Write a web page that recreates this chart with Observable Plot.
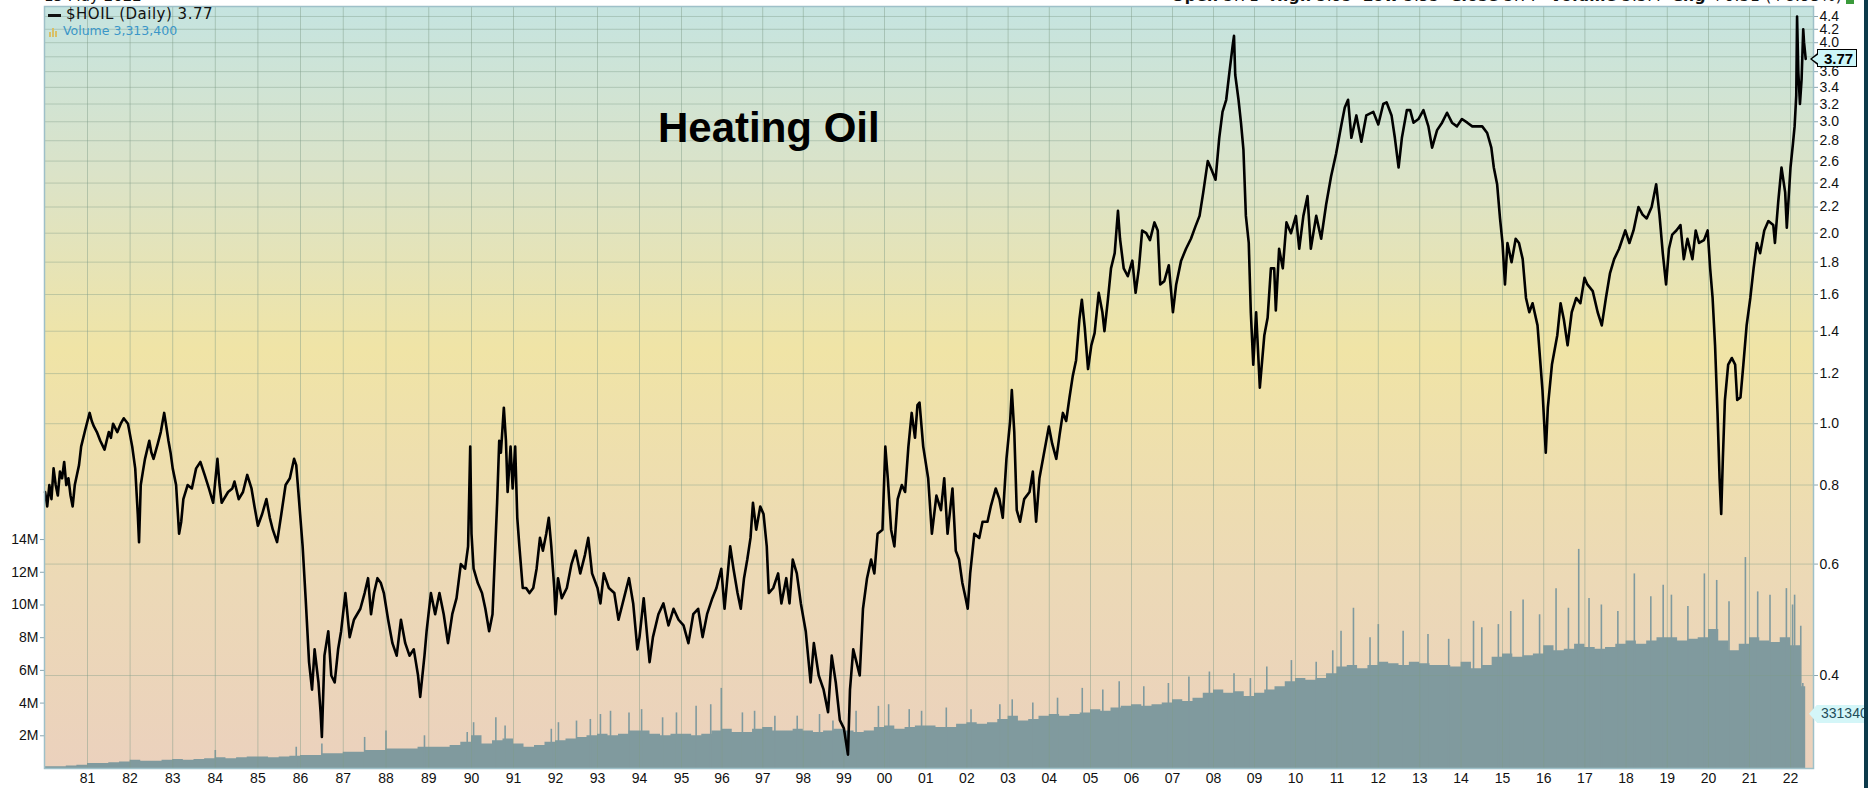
<!DOCTYPE html>
<html><head><meta charset="utf-8">
<script src="https://cdn.jsdelivr.net/npm/d3@7"></script>
<script src="https://cdn.jsdelivr.net/npm/@observablehq/plot@0.6"></script>
<style>
html,body{margin:0;padding:0;background:#fff;overflow:hidden}
#wrap{position:relative;width:1868px;height:788px;overflow:hidden;font-family:"Liberation Sans",Arial,sans-serif}
#wrap svg{position:absolute;left:0;top:0}
.ov{position:absolute;white-space:nowrap}
.vb{display:inline-block;width:2px;background:#d8c066;margin-right:1px;vertical-align:baseline}
</style></head><body><div id="wrap"></div>
<script>
// ---------- data ----------
const yearTicks = [1981,1982,1983,1984,1985,1986,1987,1988,1989,1990,1991,1992,1993,1994,1995,1996,1997,1998,1999,2000,2001,2002,2003,2004,2005,2006,2007,2008,2009,2010,2011,2012,2013,2014,2015,2016,2017,2018,2019,2020,2021,2022];
const priceTicks = [0.4,0.6,0.8,1.0,1.2,1.4,1.6,1.8,2.0,2.2,2.4,2.6,2.8,3.0,3.2,3.4,3.6,3.8,4.0,4.2,4.4];
const volTicks = [2e6,4e6,6e6,8e6,10e6,12e6,14e6];
const lastClose = 3.77;
const lastVolume = 3313400;

// $HOIL daily close (decimal year, $/gal)
const hoil = [
[1980.00,0.78],[1980.05,0.74],[1980.10,0.80],[1980.15,0.76],[1980.20,0.85],[1980.25,0.80],[1980.30,0.77],[1980.35,0.84],[1980.40,0.82],[1980.45,0.87],[1980.50,0.80],[1980.55,0.82],[1980.60,0.77],[1980.65,0.74],[1980.70,0.80],[1980.75,0.83],[1980.80,0.86],[1980.85,0.92],[1980.95,0.98],
[1981.05,1.04],[1981.10,1.01],[1981.15,0.99],[1981.22,0.97],[1981.30,0.94],[1981.40,0.91],[1981.45,0.94],[1981.50,0.97],[1981.55,0.95],[1981.60,1.00],[1981.70,0.97],[1981.78,1.00],[1981.85,1.02],[1981.95,1.00],
[1982.05,0.92],[1982.12,0.85],[1982.18,0.72],[1982.21,0.65],[1982.25,0.80],[1982.30,0.84],[1982.35,0.88],[1982.45,0.94],[1982.50,0.90],[1982.55,0.88],[1982.65,0.93],[1982.72,0.97],[1982.80,1.04],[1982.85,0.99],[1982.90,0.94],[1982.95,0.90],
[1983.00,0.85],[1983.08,0.80],[1983.15,0.67],[1983.20,0.70],[1983.25,0.76],[1983.35,0.80],[1983.45,0.79],[1983.55,0.85],[1983.65,0.87],[1983.75,0.83],[1983.85,0.79],[1983.95,0.75],
[1984.05,0.88],[1984.10,0.80],[1984.15,0.75],[1984.30,0.78],[1984.40,0.79],[1984.45,0.81],[1984.55,0.76],[1984.65,0.78],[1984.75,0.83],[1984.85,0.79],[1984.92,0.74],
[1985.00,0.69],[1985.10,0.72],[1985.20,0.76],[1985.28,0.71],[1985.35,0.68],[1985.45,0.65],[1985.55,0.72],[1985.65,0.80],[1985.75,0.82],[1985.85,0.88],[1985.90,0.86],[1985.95,0.78],
[1986.05,0.64],[1986.12,0.53],[1986.20,0.42],[1986.27,0.38],[1986.33,0.44],[1986.42,0.39],[1986.47,0.35],[1986.50,0.32],[1986.56,0.43],[1986.65,0.47],[1986.72,0.40],[1986.80,0.39],[1986.88,0.44],[1986.95,0.47],
[1987.05,0.54],[1987.15,0.46],[1987.25,0.49],[1987.40,0.51],[1987.50,0.54],[1987.58,0.57],[1987.65,0.50],[1987.72,0.54],[1987.80,0.57],[1987.88,0.56],[1987.95,0.54],
[1988.05,0.49],[1988.15,0.45],[1988.25,0.43],[1988.35,0.49],[1988.45,0.45],[1988.55,0.43],[1988.65,0.44],[1988.75,0.40],[1988.80,0.37],[1988.90,0.43],[1988.95,0.47],
[1989.05,0.54],[1989.15,0.50],[1989.25,0.54],[1989.35,0.50],[1989.45,0.45],[1989.55,0.50],[1989.65,0.53],[1989.75,0.60],[1989.85,0.59],[1989.92,0.64],[1989.97,0.92],
[1990.00,0.67],[1990.05,0.59],[1990.15,0.56],[1990.25,0.54],[1990.33,0.51],[1990.42,0.47],[1990.50,0.50],[1990.54,0.58],[1990.61,0.75],[1990.66,0.94],[1990.70,0.90],[1990.77,1.06],[1990.82,0.94],[1990.86,0.78],[1990.93,0.92],[1990.98,0.79],
[1991.04,0.92],[1991.09,0.71],[1991.14,0.64],[1991.22,0.55],[1991.30,0.55],[1991.38,0.54],[1991.47,0.55],[1991.55,0.59],[1991.63,0.66],[1991.70,0.63],[1991.78,0.67],[1991.84,0.71],[1991.90,0.64],[1991.97,0.55],
[1992.00,0.50],[1992.06,0.57],[1992.15,0.53],[1992.27,0.55],[1992.38,0.60],[1992.48,0.63],[1992.59,0.58],[1992.70,0.62],[1992.78,0.66],[1992.87,0.58],
[1993.00,0.55],[1993.07,0.52],[1993.15,0.58],[1993.27,0.55],[1993.40,0.54],[1993.50,0.49],[1993.63,0.53],[1993.75,0.57],[1993.85,0.52],[1993.95,0.44],
[1994.00,0.46],[1994.10,0.53],[1994.24,0.42],[1994.32,0.46],[1994.45,0.50],[1994.57,0.52],[1994.69,0.48],[1994.81,0.51],[1994.93,0.49],
[1995.05,0.48],[1995.17,0.45],[1995.29,0.50],[1995.41,0.51],[1995.52,0.46],[1995.63,0.50],[1995.76,0.53],[1995.86,0.55],[1995.98,0.59],
[1996.06,0.51],[1996.14,0.58],[1996.20,0.64],[1996.28,0.59],[1996.38,0.54],[1996.46,0.51],[1996.54,0.57],[1996.62,0.61],[1996.70,0.66],[1996.76,0.75],[1996.84,0.68],[1996.94,0.74],
[1997.02,0.72],[1997.10,0.64],[1997.15,0.54],[1997.26,0.55],[1997.38,0.58],[1997.46,0.52],[1997.58,0.57],[1997.66,0.52],[1997.74,0.61],[1997.84,0.58],[1997.94,0.52],
[1998.06,0.47],[1998.18,0.39],[1998.26,0.45],[1998.38,0.40],[1998.50,0.38],[1998.61,0.35],[1998.70,0.43],[1998.80,0.39],[1998.90,0.34],
[1999.00,0.33],[1999.10,0.30],[1999.15,0.38],[1999.23,0.44],[1999.31,0.42],[1999.39,0.40],[1999.47,0.51],[1999.57,0.57],[1999.67,0.61],[1999.75,0.58],[1999.83,0.67],[1999.95,0.68],
[2000.02,0.92],[2000.08,0.82],[2000.16,0.68],[2000.24,0.64],[2000.32,0.76],[2000.42,0.80],[2000.50,0.78],[2000.58,0.92],[2000.66,1.04],[2000.74,0.95],[2000.80,1.07],[2000.85,1.08],[2000.94,0.92],
[2001.06,0.82],[2001.15,0.67],[2001.26,0.77],[2001.37,0.73],[2001.45,0.82],[2001.53,0.67],[2001.65,0.79],[2001.73,0.63],[2001.81,0.61],[2001.89,0.56],[2001.97,0.53],
[2002.02,0.51],[2002.08,0.58],[2002.18,0.67],[2002.30,0.66],[2002.38,0.70],[2002.50,0.70],[2002.58,0.74],[2002.70,0.79],[2002.79,0.76],[2002.87,0.71],[2002.96,0.88],
[2003.05,1.01],[2003.09,1.13],[2003.15,0.97],[2003.21,0.73],[2003.29,0.70],[2003.39,0.76],[2003.52,0.78],[2003.60,0.84],[2003.68,0.70],[2003.76,0.82],[2003.86,0.89],[2003.99,0.99],
[2004.07,0.93],[2004.17,0.88],[2004.25,0.96],[2004.33,1.04],[2004.41,1.01],[2004.49,1.10],[2004.57,1.19],[2004.65,1.26],[2004.73,1.46],[2004.79,1.57],[2004.86,1.42],[2004.94,1.22],
[2005.02,1.33],[2005.10,1.39],[2005.20,1.61],[2005.29,1.50],[2005.34,1.40],[2005.42,1.56],[2005.50,1.76],[2005.59,1.86],[2005.67,2.17],[2005.72,1.96],[2005.81,1.76],[2005.91,1.71],
[2006.02,1.81],[2006.10,1.61],[2006.18,1.76],[2006.26,2.02],[2006.36,2.00],[2006.45,1.95],[2006.56,2.08],[2006.64,2.02],[2006.70,1.66],[2006.80,1.68],[2006.91,1.78],
[2007.01,1.50],[2007.09,1.66],[2007.21,1.81],[2007.33,1.89],[2007.45,1.96],[2007.56,2.05],[2007.66,2.13],[2007.75,2.32],[2007.86,2.60],[2007.94,2.53],
[2008.05,2.43],[2008.14,2.83],[2008.22,3.11],[2008.31,3.25],[2008.39,3.60],[2008.47,3.97],[2008.50,4.10],[2008.53,3.56],[2008.61,3.25],[2008.67,2.99],[2008.73,2.71],[2008.79,2.13],[2008.86,1.93],[2008.91,1.50],[2008.97,1.24],
[2009.04,1.50],[2009.13,1.14],[2009.24,1.38],[2009.32,1.47],[2009.40,1.76],[2009.48,1.76],[2009.52,1.51],[2009.60,1.89],[2009.69,1.76],[2009.78,2.08],[2009.89,2.00],
[2010.01,2.13],[2010.09,1.89],[2010.19,2.13],[2010.29,2.29],[2010.37,1.89],[2010.50,2.13],[2010.62,1.96],[2010.74,2.22],[2010.86,2.46],[2010.98,2.67],
[2011.11,2.97],[2011.19,3.16],[2011.27,3.25],[2011.35,2.83],[2011.47,3.07],[2011.59,2.79],[2011.71,3.07],[2011.88,3.11],
[2012.00,2.97],[2012.12,3.20],[2012.20,3.22],[2012.32,3.07],[2012.40,2.83],[2012.49,2.54],[2012.57,2.83],[2012.69,3.13],[2012.77,3.13],[2012.85,2.99],[2012.97,3.03],
[2013.09,3.13],[2013.21,2.95],[2013.30,2.73],[2013.42,2.91],[2013.54,2.99],[2013.66,3.10],[2013.78,2.99],[2013.90,2.95],
[2014.02,3.03],[2014.15,2.99],[2014.27,2.95],[2014.39,2.95],[2014.51,2.95],[2014.63,2.88],[2014.73,2.73],[2014.79,2.54],[2014.87,2.39],[2014.94,2.11],
[2015.00,1.93],[2015.06,1.66],[2015.12,1.93],[2015.22,1.80],[2015.32,1.96],[2015.40,1.93],[2015.49,1.82],[2015.57,1.58],[2015.65,1.50],[2015.73,1.55],[2015.85,1.43],[2015.97,1.13],
[2016.05,0.90],[2016.10,1.06],[2016.20,1.24],[2016.33,1.38],[2016.41,1.55],[2016.49,1.46],[2016.58,1.33],[2016.68,1.50],[2016.79,1.58],[2016.89,1.55],[2016.99,1.70],
[2017.06,1.66],[2017.19,1.62],[2017.31,1.50],[2017.41,1.43],[2017.51,1.58],[2017.61,1.73],[2017.71,1.82],[2017.83,1.89],[2017.98,2.02],
[2018.08,1.93],[2018.18,2.02],[2018.30,2.20],[2018.40,2.14],[2018.50,2.11],[2018.62,2.20],[2018.73,2.39],[2018.81,2.14],[2018.89,1.86],[2018.97,1.66],
[2019.04,1.89],[2019.12,1.99],[2019.22,2.02],[2019.32,2.06],[2019.40,1.82],[2019.49,1.96],[2019.61,1.82],[2019.69,2.02],[2019.77,1.93],[2019.89,1.95],[2019.98,2.02],
[2020.04,1.76],[2020.10,1.58],[2020.16,1.33],[2020.22,1.04],[2020.27,0.82],[2020.31,0.72],[2020.35,0.88],[2020.40,1.09],[2020.48,1.24],[2020.57,1.27],[2020.65,1.24],[2020.70,1.09],[2020.78,1.10],[2020.85,1.24],[2020.93,1.43],
[2021.02,1.58],[2021.10,1.76],[2021.18,1.93],[2021.26,1.86],[2021.36,2.02],[2021.46,2.09],[2021.58,2.06],[2021.62,1.93],[2021.70,2.24],[2021.78,2.54],[2021.87,2.32],[2021.91,2.04],
[2022.00,2.54],[2022.06,2.77],[2022.10,2.95],[2022.14,3.30],[2022.16,4.40],[2022.19,3.60],[2022.23,3.20],[2022.27,3.50],[2022.31,4.20],[2022.33,4.00],[2022.37,3.77]
];

// Volume, millions of contracts: typical level by quarter (year, Q1, Q2, Q3, Q4)
const volume = [
[1980,0.1,0.1,0.15,0.2],[1981,0.3,0.3,0.35,0.4],[1982,0.5,0.45,0.45,0.5],[1983,0.55,0.5,0.55,0.6],
[1984,0.65,0.6,0.65,0.7],[1985,0.7,0.65,0.7,0.75],[1986,0.8,0.8,0.9,0.9],[1987,1.0,1.0,1.1,1.1],
[1988,1.2,1.2,1.2,1.3],[1989,1.3,1.3,1.4,1.6],[1990,2.0,1.5,1.7,1.8],[1991,1.5,1.3,1.4,1.6],
[1992,1.7,1.8,1.9,2.0],[1993,2.1,2.0,2.1,2.3],[1994,2.3,2.1,2.0,2.1],[1995,2.1,2.0,2.1,2.3],
[1996,2.4,2.2,2.2,2.4],[1997,2.5,2.3,2.3,2.4],[1998,2.3,2.2,2.3,2.4],[1999,2.3,2.2,2.3,2.5],
[2000,2.6,2.4,2.5,2.6],[2001,2.6,2.5,2.5,2.7],[2002,2.8,2.7,2.8,3.0],[2003,3.2,2.9,3.0,3.2],
[2004,3.3,3.2,3.3,3.4],[2005,3.6,3.5,3.7,3.8],[2006,3.9,3.8,3.9,4.0],[2007,4.2,4.1,4.3,4.6],
[2008,4.8,4.6,4.7,4.4],[2009,4.6,4.8,5.0,5.3],[2010,5.5,5.4,5.5,5.8],[2011,6.2,6.3,6.1,6.3],
[2012,6.5,6.4,6.3,6.5],[2013,6.4,6.3,6.3,6.2],[2014,6.5,6.1,6.3,6.8],[2015,7.0,6.8,6.9,7.0],
[2016,7.5,7.2,7.3,7.6],[2017,7.4,7.3,7.4,7.6],[2018,7.8,7.6,7.8,8.0],[2019,8.0,7.8,7.9,8.0],
[2020,8.5,7.8,7.2,7.6],[2021,8.0,7.8,7.7,8.0],[2022,7.5,5.0]
];
// Single-day volume spikes (decimal year, millions)
const volSpikes = [
[1984.0,1.1],[1985.9,1.3],[1986.5,1.5],[1987.5,1.9],[1988.0,2.3],[1988.9,2.0],[1989.9,2.2],[1990.05,2.8],[1990.58,3.1],[1990.8,2.6],
[1991.9,2.4],[1992.07,2.8],[1992.5,2.9],[1992.83,3.0],[1993.07,3.3],[1993.31,3.5],[1993.75,3.4],[1994.05,3.6],[1994.55,3.1],[1994.88,3.4],
[1995.36,3.8],[1995.72,3.9],[1995.98,4.9],[1996.5,3.4],[1996.8,3.5],[1997.3,3.2],[1997.85,3.2],[1998.4,3.3],[1998.73,2.9],[1999.3,3.5],
[1999.85,3.8],[2000.1,3.9],[2000.6,3.6],[2000.9,3.5],[2001.5,3.7],[2002.1,3.6],[2002.8,3.9],[2003.1,4.2],[2003.6,4.0],[2004.2,4.3],
[2004.8,4.9],[2005.3,4.8],[2005.7,5.3],[2006.3,5.0],[2006.9,5.2],[2007.4,5.6],[2007.9,5.9],[2008.5,5.8],[2008.9,5.5],[2009.3,6.2],
[2009.9,6.6],[2010.5,6.5],[2010.9,7.2],[2011.1,8.4],[2011.4,9.8],[2011.8,8.0],[2012.0,8.8],[2012.6,8.4],[2013.2,8.2],[2013.7,7.9],
[2014.3,9.0],[2014.5,8.6],[2014.9,8.8],[2015.2,9.6],[2015.5,10.3],[2015.9,9.4],[2016.3,11.0],[2016.6,9.8],[2016.85,13.4],[2017.1,10.4],
[2017.4,10.0],[2017.8,9.6],[2018.2,11.9],[2018.6,10.5],[2018.9,11.2],[2019.1,10.6],[2019.5,9.9],[2019.9,11.9],[2020.2,11.5],[2020.5,10.2],
[2020.9,12.9],[2021.2,10.8],[2021.5,10.6],[2021.9,11.0],[2022.05,10.0],[2022.1,10.6],[2022.25,8.7],[2022.3,5.2]
];

// ---------- layout / scales ----------
const W = 1868, H = 788;
const M = {top: 6, right: 55, bottom: 20, left: 44};
const xDomain = [1980, 1981, 1986, 1990, 1995, 2000, 2005, 2010, 2015, 2020, 2022, 2022.56];
const xRange  = [44.6, 87, 300, 471, 681, 884, 1090, 1295, 1502, 1708, 1790, 1813];
const gridColor = "#7e9c88";
const volColor = "#809a9e";
const fontFam = "'Liberation Sans', Arial, sans-serif";

const priceRows = hoil.map(([t, p]) => ({t, p}));
const volRows = volume.flatMap(([yr, ...q]) => q.map((v, i) => ({t: yr + i / 4, v: v * 1e6})));
volRows.push({t: priceRows[priceRows.length - 1].t, v: volRows[volRows.length - 1].v});
const spikeRows = volSpikes.map(([t, v]) => ({t, v: v * 1e6}));

const base = {
  width: W, height: H, marginTop: M.top, marginRight: M.right, marginBottom: M.bottom, marginLeft: M.left,
  style: {background: "transparent", fontFamily: fontFam, fontSize: "14px", color: "#111", overflow: "visible"}
};

const volPlot = Plot.plot({
  ...base,
  x: {type: "linear", domain: xDomain, range: xRange, axis: null},
  y: {domain: [0, 46.6e6]},
  marks: [
    Plot.frame({fill: "url(#bgGrad)", stroke: "none"}),
    Plot.areaY(volRows, {x: "t", y: "v", curve: "step-after", fill: volColor}),
    Plot.ruleX(spikeRows, {x: "t", y1: 0, y2: "v", stroke: volColor, strokeWidth: 1.6}),
    Plot.axisY(volTicks, {anchor: "left", tickSize: 4, tickPadding: 2, stroke: "#8aa6b0", tickFormat: d => (d / 1e6) + "M", fontSize: 14, label: null})
  ]
});
volPlot.insertAdjacentHTML("afterbegin",
  `<defs><linearGradient id="bgGrad" x1="0" y1="0" x2="0" y2="1">
     <stop offset="0" stop-color="#c5e4e0"/>
     <stop offset="0.22" stop-color="#dbe3c8"/>
     <stop offset="0.45" stop-color="#f0e4a6"/>
     <stop offset="0.75" stop-color="#ecd9b6"/>
     <stop offset="1" stop-color="#ebd1bd"/>
   </linearGradient></defs>`);

const pricePlot = Plot.plot({
  ...base,
  x: {type: "linear", domain: xDomain, range: xRange},
  y: {type: "log", domain: [0.2852, 4.563]},
  marks: [
    Plot.gridX(yearTicks, {stroke: gridColor, strokeOpacity: 0.45, strokeWidth: 1}),
    Plot.gridY(priceTicks, {stroke: gridColor, strokeOpacity: 0.4, strokeWidth: 1}),
    Plot.lineY(priceRows, {x: "t", y: "p", stroke: "#000", strokeWidth: 2.6, strokeLinejoin: "round"}),
    Plot.axisY(priceTicks, {anchor: "right", tickSize: 4, tickPadding: 2, stroke: "#8aa6b0", tickFormat: d3.format(".1f"), fontSize: 14, label: null}),
    Plot.axisX(yearTicks, {anchor: "bottom", tickSize: 0, tickPadding: 5, tickFormat: d => String(d).slice(2), fontSize: 14, label: null}),
    Plot.frame({stroke: "#9ec0c8", strokeWidth: 1.5})
  ]
});

const wrap = document.getElementById("wrap");
wrap.appendChild(volPlot);
wrap.appendChild(pricePlot);

// ---------- overlays ----------
const yP = pricePlot.scale("y"), yV = volPlot.scale("y");
function ov(html, css) { const d = document.createElement("div"); d.className = "ov"; d.innerHTML = html; Object.assign(d.style, css); wrap.appendChild(d); return d; }

ov("15 May 2022", {left: "44px", top: "-13px", font: "15px 'DejaVu Sans', Verdana, sans-serif", color: "#111"});
ov("<b>Open</b> 3.71&nbsp;&nbsp;<b>High</b> 3.93&nbsp;&nbsp;<b>Low</b> 3.53&nbsp;&nbsp;<b>Close</b> 3.77&nbsp;&nbsp;<b>Volume</b> 3.3M&nbsp;&nbsp;<b>Chg</b> +0.31 (+8.95%)",
   {right: "26px", top: "-13px", font: "15.5px 'DejaVu Sans', Verdana, sans-serif", letterSpacing: "0.3px", color: "#111"});
ov("", {left: "1846px", top: "0px", width: "8px", height: "4px", background: "#3a9a3a"});

ov("", {left: "48px", top: "14px", width: "13px", height: "3px", background: "#111"});
ov("$HOIL (Daily) 3.77", {left: "66px", top: "5px", font: "15px 'DejaVu Sans', Verdana, sans-serif", letterSpacing: "0.5px", color: "#111"});
ov("<span class='vb' style='height:5px'></span><span class='vb' style='height:9px'></span><span class='vb' style='height:6px'></span>", {left: "49px", top: "27px", height: "10px", lineHeight: "10px"});
ov("Volume 3,313,400", {left: "63px", top: "23px", font: "12.5px 'DejaVu Sans', Verdana, sans-serif", color: "#3a96c8"});

ov("Heating Oil", {left: "658px", top: "104px", font: "bold 42px 'Liberation Sans', Arial, sans-serif", color: "#000"});

const yClose = yP.apply(lastClose);
ov(String(lastClose), {left: "1817px", top: (yClose - 9) + "px", height: "16px", lineHeight: "16px", padding: "0 3px 0 6px",
   font: "bold 15px 'Liberation Sans', Arial, sans-serif", color: "#000", background: "#cdf6f8", border: "1.5px solid #000"});
ov("", {left: "1810px", top: (yClose - 6) + "px", width: "8px", height: "13px", background: "#000", clipPath: "polygon(100% 0, 0 50%, 100% 100%)"});
ov("", {left: "1812px", top: (yClose - 4.5) + "px", width: "7px", height: "10px", background: "#cdf6f8", clipPath: "polygon(100% 0, 0 50%, 100% 100%)"});

const yVol = yV.apply(lastVolume);
ov(String(Math.round(lastVolume / 10)).slice(0, 6), {left: "1817px", top: (yVol - 9) + "px", height: "18px", lineHeight: "18px", padding: "0 0 0 4px",
   font: "14px 'Liberation Sans', Arial, sans-serif", color: "#1f4d5a", background: "#d4f6f8"});
ov("", {left: "1809px", top: (yVol - 9) + "px", width: "8px", height: "18px", background: "#d4f6f8", clipPath: "polygon(100% 0, 0 50%, 100% 100%)"});

ov("", {left: "1864px", top: "0px", width: "4px", height: "788px", background: "#0d3a4b"});
</script></body></html>
